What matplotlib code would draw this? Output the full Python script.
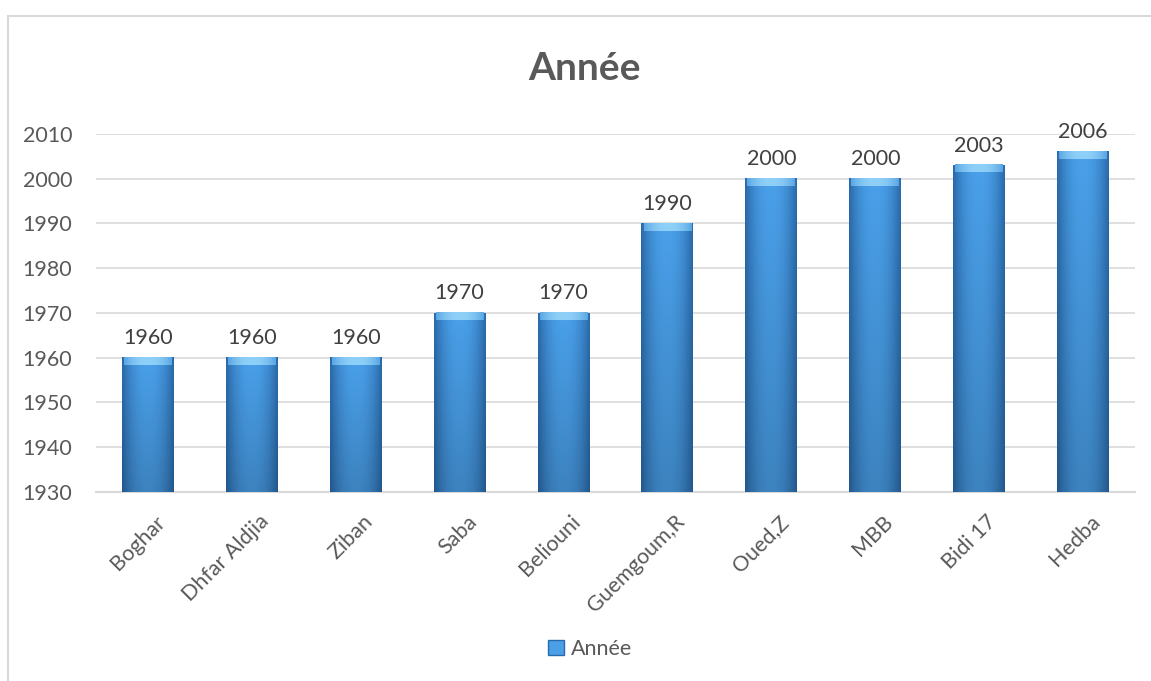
import numpy as np
import matplotlib
matplotlib.use("Agg")
import matplotlib.pyplot as plt
from matplotlib.patches import Rectangle
from matplotlib.colors import to_rgb

plt.rcParams['font.family'] = ['Lato', 'DejaVu Sans']

# data
sites = ['Boghar', 'Dhfar Aldjia', 'Ziban', 'Saba', 'Beliouni',
         'Guemgoum,R', 'Oued,Z', 'MBB', 'Bidi 17', 'Hedba']
years = [1960, 1960, 1960, 1970, 1970, 1990, 2000, 2000, 2003, 2006]
yticks = [1930, 1940, 1950, 1960, 1970, 1980, 1990, 2000, 2010]

GRAY = '#595959'
GRID = '#d9d9d9'

fig = plt.figure(figsize=(11.51, 6.81), dpi=100)
W, H = 1151, 681
ax = fig.add_axes([96 / W, 1 - 492 / H, (1135 - 96) / W, (492 - 134) / H])

# outer chart frame
fig.patches.append(Rectangle((8 / W, -0.1), 1.2, 1 - 16 / H + 0.1,
                             transform=fig.transFigure, fill=False,
                             edgecolor=GRID, lw=1.5))

x = np.arange(len(sites))
bars = ax.bar(x, [y - 1930 for y in years], bottom=1930, width=0.5,
              color='#3f8fd8', label='Année', zorder=2)


def gradient(c_edge, c_mid, n=64):
    t = np.abs(np.linspace(-1, 1, n))
    t = t ** 2.2
    e = np.array(to_rgb(c_edge))
    m = np.array(to_rgb(c_mid))
    row = m[None, :] * (1 - t[:, None]) + e[None, :] * t[:, None]
    return row[None, :, :]


body = gradient('#2a6aaa', '#4aa0ea')
body_v = np.repeat(body, 40, axis=0)
# darken the bottom a little
shade = np.linspace(1.0, 0.82, 40)[:, None, None]
body_v = body_v * shade
cap = gradient('#5aa6e2', '#8fd0f8')

for b in bars:
    bx, by = b.get_x(), b.get_y()
    bw, bh = b.get_width(), b.get_height()
    ax.imshow(body_v, extent=(bx, bx + bw, by, by + bh), aspect='auto',
              zorder=3, interpolation='bilinear')
    ax.imshow(cap, extent=(bx + bw * 0.04, bx + bw * 0.96, by + bh - 1.6,
                           by + bh), aspect='auto', zorder=4,
              interpolation='bilinear')
    ax.annotate(str(int(by + bh)), (bx + bw / 2, by + bh),
                xytext=(0, 7), textcoords='offset points',
                ha='center', va='bottom', fontsize=15.5, color='#404040')

ax.set_xlim(-0.5, len(sites) - 0.5)
ax.set_ylim(1930, 2010)
ax.set_yticks(yticks)
ax.set_xticks(x)
ax.set_xticklabels([])
# slanted category labels, a bit right of the tick like the original
for xi, name in zip(x, sites):
    ax.annotate(name, (xi, 1930), xytext=(5, -14), textcoords='offset points',
                ha='right', va='top', rotation=45, rotation_mode='anchor',
                fontsize=15.5, color=GRAY, annotation_clip=False)
ax.tick_params(axis='y', length=0, pad=17, labelsize=15.5, labelcolor=GRAY)
ax.tick_params(axis='x', length=0)
ax.grid(axis='y', color=GRID, lw=1.2, zorder=0)
ax.set_axisbelow(True)
for s in ['left', 'right', 'top']:
    ax.spines[s].set_visible(False)
ax.spines['bottom'].set_color(GRID)
ax.spines['bottom'].set_linewidth(1.5)

fig.text(584 / W, 1 - 68 / H, 'Année', ha='center', va='center',
         fontsize=28, fontweight='bold', color=GRAY)

fig.legend(handles=[Rectangle((0, 0), 1, 1, facecolor='#4a9fe8',
                              edgecolor='#2a6aaa')],
           labels=['Année'], loc='center', bbox_to_anchor=(590 / W, 1 - 649 / H),
           frameon=False, fontsize=15.5, handlelength=0.75, handleheight=0.75,
           handletextpad=0.3, labelcolor=GRAY)

fig.savefig('out.png', dpi=100)
